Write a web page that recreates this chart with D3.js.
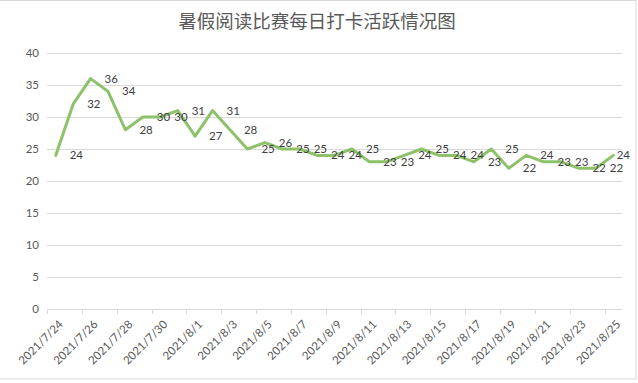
<!DOCTYPE html>
<html><head><meta charset="utf-8">
<script src="https://cdn.jsdelivr.net/npm/d3@7/dist/d3.min.js"></script>
<style>body{margin:0;background:#fff}svg{display:block}</style>
</head><body>
<svg id="c" width="638" height="383"></svg>
<script>
const title = "暑假阅读比赛每日打卡活跃情况图";
const dates = ["2021/7/24","2021/7/25","2021/7/26","2021/7/27","2021/7/28","2021/7/29","2021/7/30","2021/7/31",
  "2021/8/1","2021/8/2","2021/8/3","2021/8/4","2021/8/5","2021/8/6","2021/8/7","2021/8/8","2021/8/9","2021/8/10",
  "2021/8/11","2021/8/12","2021/8/13","2021/8/14","2021/8/15","2021/8/16","2021/8/17","2021/8/18","2021/8/19",
  "2021/8/20","2021/8/21","2021/8/22","2021/8/23","2021/8/24","2021/8/25"];
const values = [24,32,36,34,28,30,30,31,27,31,28,25,26,25,25,24,24,25,23,23,24,25,24,24,23,25,22,24,23,23,22,22,24];
const yTicks = [0,5,10,15,20,25,30,35,40];

const svg = d3.select("#c");
const font = "Lato, 'Open Sans', sans-serif";
const L = 47, R = 622, T = 53, B = 309;

svg.append("rect").attr("x",-1).attr("y",0.5).attr("width",637).attr("height",378.5)
  .attr("fill","#fff").attr("stroke","#d9d9d9");

svg.append("text").attr("x",317).attr("y",28).attr("text-anchor","middle")
  .attr("font-family","'Noto Sans CJK SC', sans-serif").attr("font-size",18.5)
  .attr("fill","#595959").text(title);

const x = d3.scaleBand().domain(dates).range([L,R]).paddingInner(0).paddingOuter(0);
const y = d3.scaleLinear().domain([0,40]).range([B,T]);

// gridlines
svg.append("g").selectAll("line").data(yTicks.filter(d=>d>0)).join("line")
  .attr("x1",L).attr("x2",R).attr("y1",d=>y(d)+0.5).attr("y2",d=>y(d)+0.5)
  .attr("stroke","#d9d9d9").attr("stroke-width",1);

// y axis labels
svg.append("g").selectAll("text").data(yTicks).join("text")
  .attr("x",39).attr("y",d=>y(d)).attr("dy","0.35em").attr("text-anchor","end")
  .attr("font-family",font).attr("font-size",11.5).attr("fill","#595959").text(d=>d);

// x axis line
svg.append("line").attr("x1",L).attr("x2",R).attr("y1",B+0.5).attr("y2",B+0.5).attr("stroke","#d9d9d9");
const tickIdx = d3.range(0,dates.length,2);
svg.append("g").selectAll("line").data(tickIdx).join("line")
  .attr("x1",i=>Math.round(x(dates[i]))+0.5).attr("x2",i=>Math.round(x(dates[i]))+0.5)
  .attr("y1",B).attr("y2",B+5).attr("stroke","#d9d9d9");

// x labels
svg.append("g").selectAll("text").data(tickIdx).join("text")
  .attr("transform",i=>`translate(${x(dates[i])+x.bandwidth()/2+8},${B+16}) rotate(-45)`)
  .attr("text-anchor","end").attr("font-family",font).attr("font-size",11.5).attr("fill","#595959")
  .text(i=>dates[i]);

// line
const cx = (d,i)=>x(dates[i])+x.bandwidth()/2;
svg.append("path").datum(values)
  .attr("d",d3.line().x(cx).y(d=>y(d)))
  .attr("fill","none").attr("stroke","#8dc26a").attr("stroke-width",3)
  .attr("stroke-linejoin","round").attr("stroke-linecap","round");

// data labels (kept inside the chart frame)
svg.append("g").selectAll("text").data(values).join("text")
  .attr("y",d=>y(d)).attr("dy","0.35em")
  .attr("font-family",font).attr("font-size",11.5).attr("fill","#404040").text(d=>d)
  .each(function(d,i){
    const w = this.getComputedTextLength();
    d3.select(this).attr("x", Math.min(cx(d,i)+14, 630 - w));
  });
</script>
</body></html>
